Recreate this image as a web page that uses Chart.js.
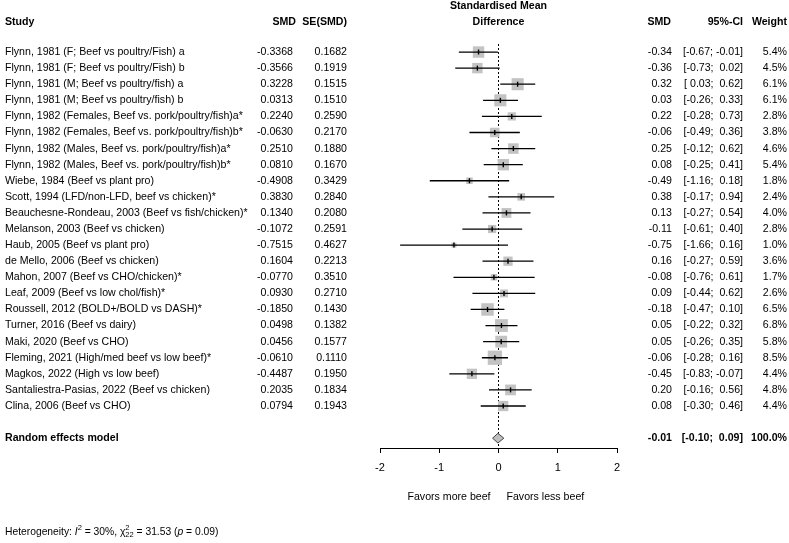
<!DOCTYPE html>
<html>
<head>
<meta charset="utf-8">
<script src="https://cdn.jsdelivr.net/npm/chart.js@4/dist/chart.umd.min.js"></script>
<style>
  html, body { margin: 0; padding: 0; background: #fff; }
  #wrap { width: 789px; height: 543px; }
</style>
</head>
<body>
<div id="wrap"><canvas id="forest" width="789" height="543"></canvas></div>
<script>
// study data
const studies = [
  'Flynn, 1981 (F; Beef vs poultry/Fish) a',
  'Flynn, 1981 (F; Beef vs poultry/Fish) b',
  'Flynn, 1981 (M; Beef vs poultry/fish) a',
  'Flynn, 1981 (M; Beef vs poultry/fish) b',
  'Flynn, 1982 (Females, Beef vs. pork/poultry/fish)a*',
  'Flynn, 1982 (Females, Beef vs. pork/poultry/fish)b*',
  'Flynn, 1982 (Males, Beef vs. pork/poultry/fish)a*',
  'Flynn, 1982 (Males, Beef vs. pork/poultry/fish)b*',
  'Wiebe, 1984 (Beef vs plant pro)',
  'Scott, 1994 (LFD/non-LFD, beef vs chicken)*',
  'Beauchesne-Rondeau, 2003 (Beef vs fish/chicken)*',
  'Melanson, 2003 (Beef vs chicken)',
  'Haub, 2005 (Beef vs plant pro)',
  'de Mello, 2006 (Beef vs chicken)',
  'Mahon, 2007 (Beef vs CHO/chicken)*',
  'Leaf, 2009 (Beef vs low chol/fish)*',
  'Roussell, 2012 (BOLD+/BOLD vs DASH)*',
  'Turner, 2016 (Beef vs dairy)',
  'Maki, 2020 (Beef vs CHO)',
  'Fleming, 2021 (High/med beef vs low beef)*',
  'Magkos, 2022 (High vs low beef)',
  'Santaliestra-Pasias, 2022 (Beef vs chicken)',
  'Clina, 2006 (Beef vs CHO)'
];
const smd = [-0.3368, -0.3566, 0.3228, 0.0313, 0.2240, -0.0630, 0.2510, 0.0810, -0.4908, 0.3830,
  0.1340, -0.1072, -0.7515, 0.1604, -0.0770, 0.0930, -0.1850, 0.0498, 0.0456, -0.0610,
  -0.4487, 0.2035, 0.0794];
const seSmd = ['0.1682', '0.1919', '0.1515', '0.1510', '0.2590', '0.2170', '0.1880', '0.1670', '0.3429', '0.2840',
  '0.2080', '0.2591', '0.4627', '0.2213', '0.3510', '0.2710', '0.1430', '0.1382', '0.1577', '0.1110',
  '0.1950', '0.1834', '0.1943'];
const ciLow = [-0.67, -0.73, 0.03, -0.26, -0.28, -0.49, -0.12, -0.25, -1.16, -0.17,
  -0.27, -0.61, -1.66, -0.27, -0.76, -0.44, -0.47, -0.22, -0.26, -0.28,
  -0.83, -0.16, -0.30];
const ciHigh = [-0.01, 0.02, 0.62, 0.33, 0.73, 0.36, 0.62, 0.41, 0.18, 0.94,
  0.54, 0.40, 0.16, 0.59, 0.61, 0.62, 0.10, 0.32, 0.35, 0.16,
  -0.07, 0.56, 0.46];
const weight = [5.4, 4.5, 6.1, 6.1, 2.8, 3.8, 4.6, 5.4, 1.8, 2.4,
  4.0, 2.8, 1.0, 3.6, 1.7, 2.6, 6.5, 6.8, 5.8, 8.5,
  4.4, 4.8, 4.4];
const pooled = { est: -0.01, low: -0.10, high: 0.09, weight: 100.0 };
const xTicks = [-2, -1, 0, 1, 2];

const FONT = '"Liberation Sans", Arial, sans-serif';
const modelRow = studies.length + 1;

function fmt2(v) {
  const s = v.toFixed(2);
  return v >= 0 ? ' ' + s : s;
}

// CI whiskers: one line dataset, broken with null points
const whiskers = [];
studies.forEach((s, i) => {
  whiskers.push({ x: ciLow[i], y: i }, { x: ciHigh[i], y: i }, { x: null, y: null });
});

const estPoints = smd.map((v, i) => ({ x: v, y: i }));

const diamond = [
  { x: pooled.low, y: modelRow },
  { x: pooled.est, y: modelRow - 0.3 },
  { x: pooled.high, y: modelRow },
  { x: pooled.est, y: modelRow + 0.3 },
  { x: pooled.low, y: modelRow }
];

const textPlugin = {
  id: 'forestText',
  afterDraw(chart) {
    const ctx = chart.ctx;
    const ys = chart.scales.y;
    const xs = chart.scales.x;
    ctx.save();
    ctx.fillStyle = '#000';
    ctx.textBaseline = 'middle';

    // headers
    ctx.font = 'bold 10.6px ' + FONT;
    ctx.textAlign = 'left';
    ctx.fillText('Study', 5, 22);
    ctx.textAlign = 'right';
    ctx.fillText('SMD', 296, 22);
    ctx.fillText('SE(SMD)', 347, 22);
    ctx.fillText('SMD', 671, 22);
    ctx.fillText('95%-CI', 743, 22);
    ctx.fillText('Weight', 787, 22);
    ctx.textAlign = 'center';
    const mid = xs.getPixelForValue(0);
    ctx.fillText('Standardised Mean', mid, 6);
    ctx.fillText('Difference', mid, 22);

    // study rows
    ctx.font = '10.6px ' + FONT;
    studies.forEach((s, i) => {
      const py = ys.getPixelForValue(i);
      ctx.textAlign = 'left';
      ctx.fillText(s, 5, py);
      ctx.textAlign = 'right';
      ctx.fillText(smd[i].toFixed(4), 293, py);
      ctx.fillText(seSmd[i], 347, py);
      ctx.fillText(smd[i].toFixed(2), 672, py);
      ctx.fillText('[' + fmt2(ciLow[i]) + '; ' + fmt2(ciHigh[i]) + ']', 743, py);
      ctx.fillText(weight[i].toFixed(1) + '%', 787, py);
    });

    // pooled row
    const my = ys.getPixelForValue(modelRow);
    ctx.font = 'bold 10.6px ' + FONT;
    ctx.textAlign = 'left';
    ctx.fillText('Random effects model', 5, my);
    ctx.textAlign = 'right';
    ctx.fillText(pooled.est.toFixed(2), 672, my);
    ctx.fillText('[' + fmt2(pooled.low) + '; ' + fmt2(pooled.high) + ']', 743, my);
    ctx.fillText(pooled.weight.toFixed(1) + '%', 787, my);

    // favours labels
    ctx.font = '10.6px ' + FONT;
    ctx.textAlign = 'right';
    ctx.fillText('Favors more beef', mid - 8, 497);
    ctx.textAlign = 'left';
    ctx.fillText('Favors less beef', mid + 8, 497);

    // heterogeneity
    let x = 5;
    const hy = 532;
    const put = (t, font, dy) => {
      ctx.font = font;
      ctx.fillText(t, x, hy + (dy || 0));
      x += ctx.measureText(t).width;
    };
    ctx.textAlign = 'left';
    put('Heterogeneity: ', '10.3px ' + FONT);
    put('I', 'italic 10.3px ' + FONT);
    put('2', '7.5px ' + FONT, -4);
    put(' = 30%, ', '10.3px ' + FONT);
    put('\u03c7', '10.3px ' + FONT);
    const after = x;
    put('2', '7.5px ' + FONT, -4);
    x = after;
    put('22', '7.5px ' + FONT, 3);
    put(' = 31.53 (', '10.3px ' + FONT);
    put('p', 'italic 10.3px ' + FONT);
    put(' = 0.09)', '10.3px ' + FONT);
    ctx.restore();
  }
};

new Chart(document.getElementById('forest'), {
  type: 'scatter',
  data: {
    datasets: [
      {
        label: 'estimate',
        data: estPoints,
        pointStyle: 'line',
        rotation: 90,
        pointRadius: 2.5,
        borderColor: '#000',
        borderWidth: 1.4,
        order: 0
      },
      {
        label: 'ci',
        type: 'line',
        data: whiskers,
        showLine: true,
        spanGaps: false,
        borderColor: '#000',
        borderWidth: 1.3,
        pointRadius: 0,
        fill: false,
        order: 1
      },
      {
        label: 'weight box',
        data: estPoints,
        pointStyle: 'rect',
        pointRadius: weight.map(w => 4.9 * Math.sqrt(w) / Math.SQRT2),
        backgroundColor: '#c3c3c3',
        borderWidth: 0,
        order: 2
      },
      {
        label: 'pooled',
        type: 'line',
        data: diamond,
        showLine: true,
        tension: 0,
        fill: 'shape',
        backgroundColor: '#bebebe',
        borderColor: '#444',
        borderWidth: 1,
        pointRadius: 0,
        order: 3
      },
      {
        label: 'zero',
        type: 'line',
        data: [{ x: 0, y: -0.5 }, { x: 0, y: 24.61 }],
        showLine: true,
        borderColor: '#000',
        borderWidth: 1,
        borderDash: [2, 2],
        pointRadius: 0,
        fill: false,
        order: 4
      }
    ]
  },
  options: {
    responsive: false,
    animation: false,
    events: [],
    layout: { padding: { left: 380, right: 172, top: 44, bottom: 0 } },
    plugins: {
      legend: { display: false },
      tooltip: { enabled: false }
    },
    scales: {
      x: {
        type: 'linear',
        min: -2,
        max: 2,
        afterBuildTicks: s => { s.ticks = xTicks.map(v => ({ value: v })); },
        afterFit: s => { s.height = 95; },
        grid: { drawOnChartArea: false, drawTicks: true, tickLength: 5, color: '#000', lineWidth: 1 },
        border: { display: true, color: '#000', width: 1 },
        ticks: { color: '#000', font: { size: 11, family: FONT }, padding: 8, maxRotation: 0 }
      },
      y: {
        type: 'linear',
        display: false,
        reverse: true,
        min: -0.5,
        max: 24.61
      }
    }
  },
  plugins: [textPlugin]
});
</script>
</body>
</html>
